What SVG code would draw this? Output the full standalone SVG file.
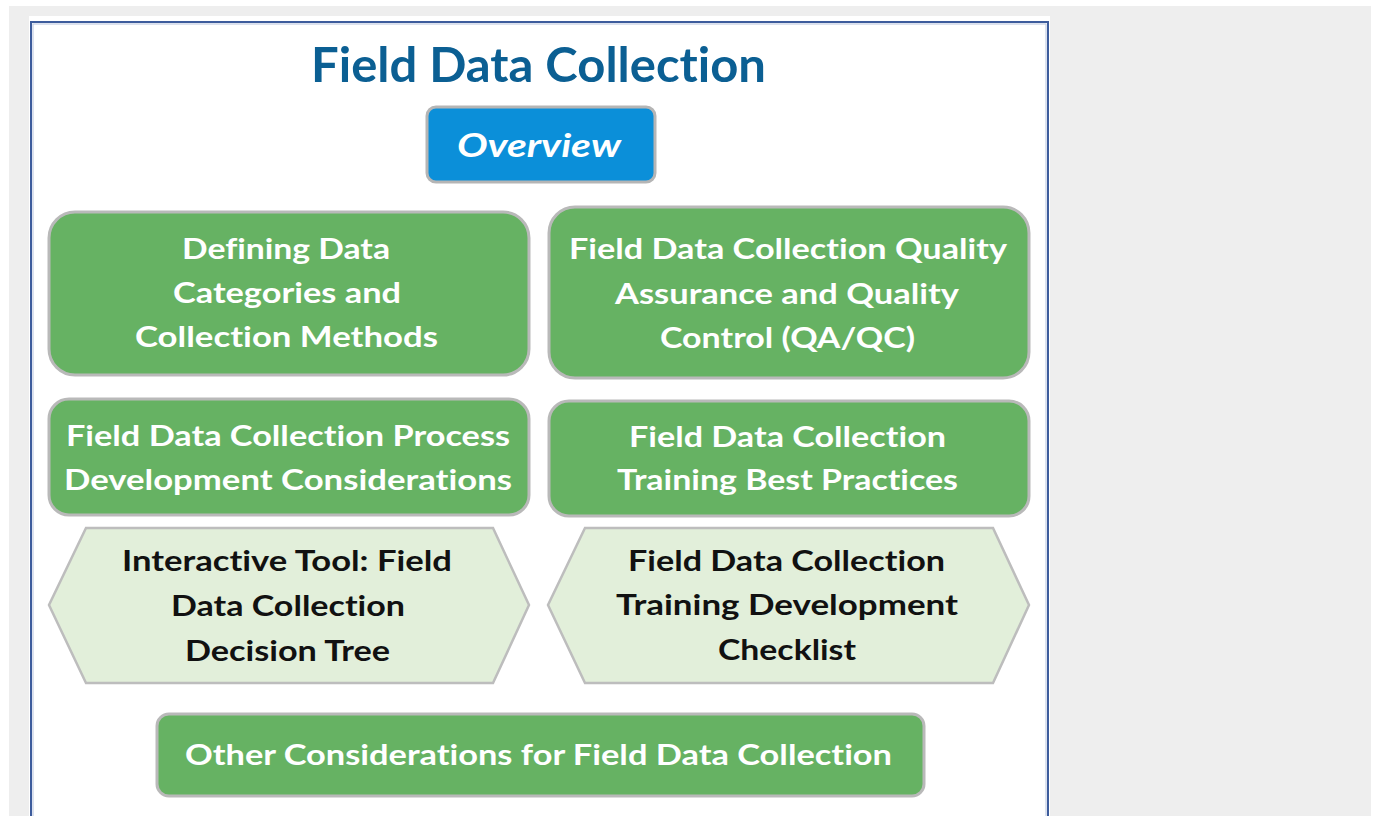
<svg xmlns="http://www.w3.org/2000/svg" width="1376" height="816" viewBox="0 0 1376 816">
<style>
.t{font-family:Lato,"Open Sans","Liberation Sans",sans-serif;font-weight:bold;text-anchor:middle;font-variant-ligatures:none;font-feature-settings:"liga" 0}
.w{fill:#ffffff;font-size:29px}
.k{fill:#111111;font-size:29px}
.g{fill:#66b263;stroke:#b9b9b9;stroke-width:3}
.h{fill:#e2efda;stroke:#bdbdbd;stroke-width:2.5}
</style>
<rect x="0" y="0" width="1376" height="816" fill="#ffffff"/>
<rect x="9" y="6" width="1362" height="810" fill="#eeeeee"/>
<rect x="29" y="16" width="1021" height="800" fill="#ffffff"/>
<rect x="31" y="22" width="1017" height="800" fill="none" stroke="#3d5c9c" stroke-width="2"/>
<rect x="33" y="24" width="1013" height="800" fill="none" stroke="#b7c4de" stroke-width="1"/>
<g id="title">
<text class="t" x="538.5" y="82" font-size="48" fill="#0b5f93" textLength="455" lengthAdjust="spacingAndGlyphs">Field Data Collection</text>
</g>
<g id="overview">
<rect x="427" y="107" width="228" height="75" rx="9" fill="#0b8fd9" stroke="#b5b5b5" stroke-width="3"/>
<text class="t" x="539" y="157" font-size="32" font-style="italic" fill="#ffffff" textLength="164" lengthAdjust="spacingAndGlyphs">Overview</text>
</g>
<g id="n1">
<rect class="g" x="49" y="212" width="480" height="163" rx="26"/>
<text class="t w" x="286" y="259" textLength="208" lengthAdjust="spacingAndGlyphs">Defining Data</text>
<text class="t w" x="287" y="303" textLength="228" lengthAdjust="spacingAndGlyphs">Categories and</text>
<text class="t w" x="286.5" y="347" textLength="303" lengthAdjust="spacingAndGlyphs">Collection Methods</text>
</g>
<g id="n2">
<rect class="g" x="549" y="207" width="480" height="171" rx="26"/>
<text class="t w" x="788" y="259" textLength="438" lengthAdjust="spacingAndGlyphs">Field Data Collection Quality</text>
<text class="t w" x="787" y="304" textLength="344" lengthAdjust="spacingAndGlyphs">Assurance and Quality</text>
<text class="t w" x="787.5" y="348" textLength="255" lengthAdjust="spacingAndGlyphs">Control (QA/QC)</text>
</g>
<g id="n3">
<rect class="g" x="49" y="399" width="480" height="116" rx="20"/>
<text class="t w" x="288" y="446" textLength="444" lengthAdjust="spacingAndGlyphs">Field Data Collection Process</text>
<text class="t w" x="288" y="490" textLength="448" lengthAdjust="spacingAndGlyphs">Development Considerations</text>
</g>
<g id="n4">
<rect class="g" x="549" y="401" width="480" height="115" rx="20"/>
<text class="t w" x="787.5" y="447" textLength="317" lengthAdjust="spacingAndGlyphs">Field Data Collection</text>
<text class="t w" x="787.5" y="490" textLength="341" lengthAdjust="spacingAndGlyphs">Training Best Practices</text>
</g>
<g id="n5">
<polygon class="h" points="86,528 493,528 529,605 493,683 86,683 49,605"/>
<text class="t k" x="287" y="571" textLength="330" lengthAdjust="spacingAndGlyphs">Interactive Tool: Field</text>
<text class="t k" x="288" y="616" textLength="234" lengthAdjust="spacingAndGlyphs">Data Collection</text>
<text class="t k" x="287.5" y="661" textLength="205" lengthAdjust="spacingAndGlyphs">Decision Tree</text>
</g>
<g id="n6">
<polygon class="h" points="585,528 993,528 1029,605 993,683 585,683 548,605"/>
<text class="t k" x="786.5" y="571" textLength="317" lengthAdjust="spacingAndGlyphs">Field Data Collection</text>
<text class="t k" x="787" y="615" textLength="342" lengthAdjust="spacingAndGlyphs">Training Development</text>
<text class="t k" x="787" y="660" textLength="138" lengthAdjust="spacingAndGlyphs">Checklist</text>
</g>
<g id="n7">
<rect class="g" x="157" y="714" width="767" height="82" rx="12"/>
<text class="t w" x="538.5" y="765" textLength="707" lengthAdjust="spacingAndGlyphs">Other Considerations for Field Data Collection</text>
</g>
<g id="connectors"></g>
</svg>
